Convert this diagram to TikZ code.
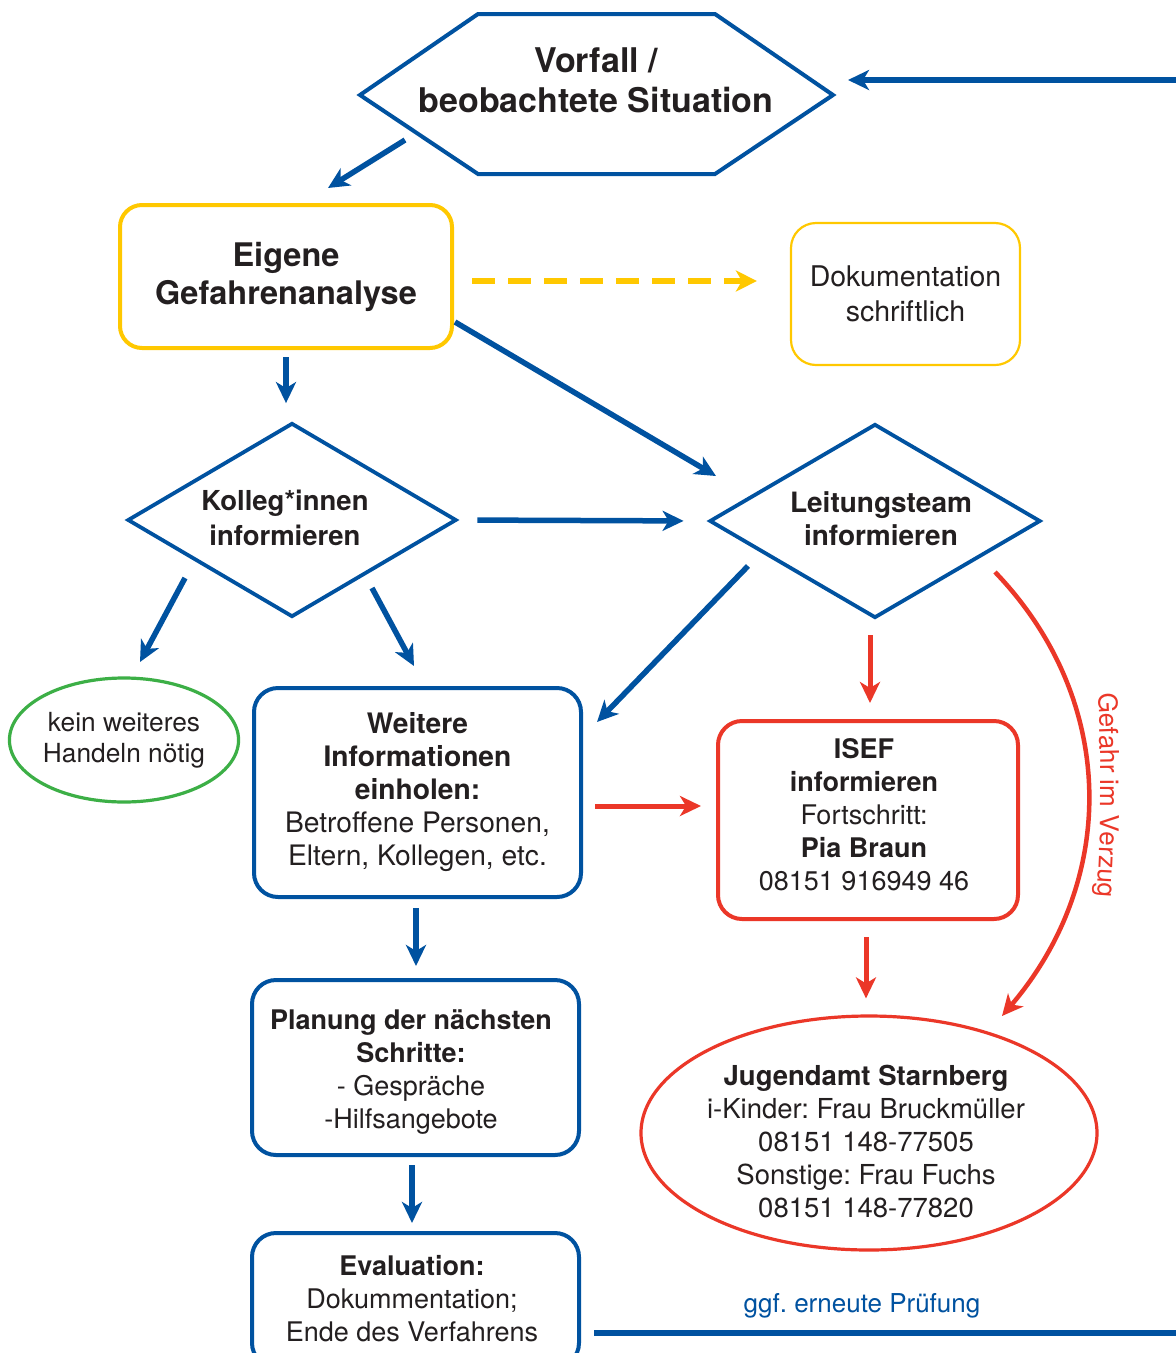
\documentclass[tikz,border=0pt]{standalone}
\usepackage{fontspec}
\setmainfont{TeX Gyre Heros}
\usetikzlibrary{shapes.geometric,arrows.meta,decorations.text}
\definecolor{fblue}{RGB}{0,82,160}
\definecolor{fyellow}{RGB}{255,200,0}
\definecolor{fred}{RGB}{235,55,40}
\definecolor{fgreen}{RGB}{60,175,70}
\definecolor{ftext}{RGB}{35,31,32}
\frenchspacing
\tikzset{
  txt/.style={font=\fontsize{27}{33}\selectfont, text=ftext, align=center},
  bluebox/.style={txt, draw=fblue, line width=4pt, rounded corners=24pt, inner sep=0pt},
  redbox/.style={txt, draw=fred, line width=4pt, rounded corners=24pt, inner sep=0pt},
  diam/.style={txt, draw=fblue, line width=3.8pt, diamond, inner sep=0pt, aspect=1.7},
  barrow/.style={draw=fblue, line width=5.5pt, -{Stealth[length=21pt,width=20pt,inset=6pt]}},
  rarrow/.style={draw=fred, line width=5pt, -{Stealth[length=21pt,width=20pt,inset=6pt]}},
}
\begin{document}
\begin{tikzpicture}[x=1pt,y=-1pt]
\useasboundingbox (0,0) rectangle (1176,1353);
\fill[white] (0,0) rectangle (1176,1353);

% hexagon
\coordinate (hL) at (360,95);
\coordinate (hTL) at (478,14);
\coordinate (hTR) at (715,14);
\coordinate (hR) at (833,95);
\coordinate (hBR) at (715,174);
\coordinate (hBL) at (478,174);
\draw[fblue, line width=4pt, line join=miter] (hL) -- (hTL) -- (hTR) -- (hR) -- (hBR) -- (hBL) -- cycle;
\node[txt, font=\fontsize{34}{40}\selectfont\bfseries] (vorfall) at (596,80) {Vorfall /\\beobachtete Situation};

% nodes
\node[txt, draw=fyellow, line width=4pt, rounded corners=22pt, minimum width=332pt, minimum height=143pt, inner sep=0pt,
      font=\fontsize{32.5}{38}\selectfont\bfseries] (eigene) at (286,276.5) {Eigene\\[0pt]Gefahrenanalyse};
\path (eigene.center);
\node[txt, draw=fyellow, line width=2.2pt, rounded corners=25pt, minimum width=229pt, minimum height=142pt, inner sep=0pt,
      font=\fontsize{28.5}{35}\selectfont] (doku) at (905.5,294) {Dokumentation\\schriftlich};

\node[diam, minimum width=329pt, minimum height=194pt] (kolleg) at (292,520) {};
\node[txt, font=\fontsize{27.5}{35}\selectfont\bfseries] (kollegtxt) at (285,518) {Kolleg*innen\\informieren};
\node[diam, minimum width=331pt, minimum height=194pt] (leitung) at (875,521) {};
\node[txt, font=\fontsize{28}{33}\selectfont\bfseries] (leitungtxt) at (881,519) {Leitungsteam\\informieren};

\node[txt, draw=fgreen, line width=3.2pt, ellipse, minimum width=226pt, minimum height=124pt, inner sep=0pt,
      font=\fontsize{26.3}{31}\selectfont] (kein) at (124,740) {kein weiteres\\Handeln nötig};

\node[bluebox, minimum width=327pt, minimum height=209pt, font=\fontsize{28.2}{33}\selectfont] (weitere) at (417.5,792.5)
  {\textbf{Weitere}\\\textbf{Informationen}\\\textbf{einholen:}\\Betroffene Personen,\\Eltern, Kollegen, etc.};

\node[redbox, minimum width=300pt, minimum height=198pt] (isef) at (868,820) {};
\node[txt] (iseftxt) at (864,815)
  {\textbf{ISEF}\\\textbf{informieren}\\Fortschritt:\\\textbf{Pia Braun}\\08151 916949 46};

\node[draw=fred, line width=3.2pt, ellipse, minimum width=456pt, minimum height=234pt, inner sep=0pt] (jugend) at (869,1133) {};
\node[txt, font=\fontsize{27.5}{33}\selectfont] (jugendtxt) at (866,1142)
  {\textbf{Jugendamt Starnberg}\\i-Kinder: Frau Bruckmüller\\08151 148-77505\\Sonstige: Frau Fuchs\\08151 148-77820};

\node[bluebox, minimum width=327pt, minimum height=175pt] (planung) at (415.5,1067.5) {};
\node[txt] (planungtxt) at (411,1072)
  {\textbf{Planung der nächsten}\\\textbf{Schritte:}\\- Gespräche\\-Hilfsangebote};

\node[bluebox, minimum width=327pt, minimum height=134pt] (eval) at (415.5,1300) {};
\node[txt] (evaltxt) at (412,1299)
  {\textbf{Evaluation:}\\Dokummentation;\\Ende des Verfahrens};

% arrows
\coordinate (a1s) at (405,140);
\coordinate (a1e) at (328,188);
\draw[barrow] (a1s) -- (a1e);

\coordinate (ye1) at (472,281);
\draw[draw=fyellow, line width=6pt, dash pattern=on 23pt off 13pt, -{Stealth[length=21pt,width=21pt,inset=6pt]},
      shorten >=33pt] (ye1) -- (doku.west |- ye1);

\draw[barrow, shorten <=7pt, shorten >=18pt] (eigene.south) -- (eigene.south |- kolleg.north);

\coordinate (a4s) at (455,322);
\coordinate (a4e) at (716,476);
\draw[barrow] (a4s) -- (a4e);

\draw[barrow, shorten <=19pt, shorten >=24pt] (kolleg.east) -- (leitung.west);

\coordinate (a6s) at (185,578);
\coordinate (a6e) at (140,662);
\draw[barrow] (a6s) -- (a6e);

\coordinate (a7s) at (372,588);
\coordinate (a7e) at (414,666);
\draw[barrow] (a7s) -- (a7e);

\coordinate (a8s) at (748,566);
\coordinate (a8e) at (597,722);
\draw[barrow] (a8s) -- (a8e);

\coordinate (r1s) at (870,635);
\draw[rarrow, shorten >=16pt] (r1s) -- (isef.north -| r1s);

\draw[rarrow, shorten <=12pt, shorten >=15pt] ([yshift=-13.5pt]weitere.east) -- ([yshift=-13.5pt]weitere.east -| isef.west);

\draw[rarrow, shorten <=16pt, shorten >=16pt] ([xshift=-2pt]isef.south) -- ([xshift=-2pt]isef.south |- jugend.north);

\coordinate (b13) at (416,908);
\draw[barrow, shorten >=12pt] (b13) -- (planung.north -| b13);
\coordinate (b14) at (412,1165);
\draw[barrow, shorten >=8pt] (b14) -- (eval.north -| b14);

% red curve
\coordinate (cs) at (995,572);
\coordinate (ce) at (1002,1016);
\draw[rarrow, line width=4.5pt] (cs) .. controls (1118,700) and (1118,880) .. (ce);
\path[postaction={decorate}, decoration={text along path, text align=center, text color=fred,
      text={|\fontsize{26}{30}\selectfont|Gefahr im Verzug}}]
      (1092,620) .. controls (1104,730) and (1104,860) .. (1090,970);

% feedback loop
\coordinate (lp1) at (1200,1333);
\coordinate (lp2) at (1200,80);
\coordinate (lpe) at (848,80);
\draw[draw=fblue, line width=5.5pt, -{Stealth[length=21pt,width=20pt,inset=6pt]}, shorten <=13pt]
  (eval.east |- lp1) -- (lp1) -- (lp2) -- (lpe);
\node[font=\fontsize{26}{30}\selectfont, text=fblue] (pruef) at (862,1306) {ggf. erneute Prüfung};
\end{tikzpicture}
\end{document}
